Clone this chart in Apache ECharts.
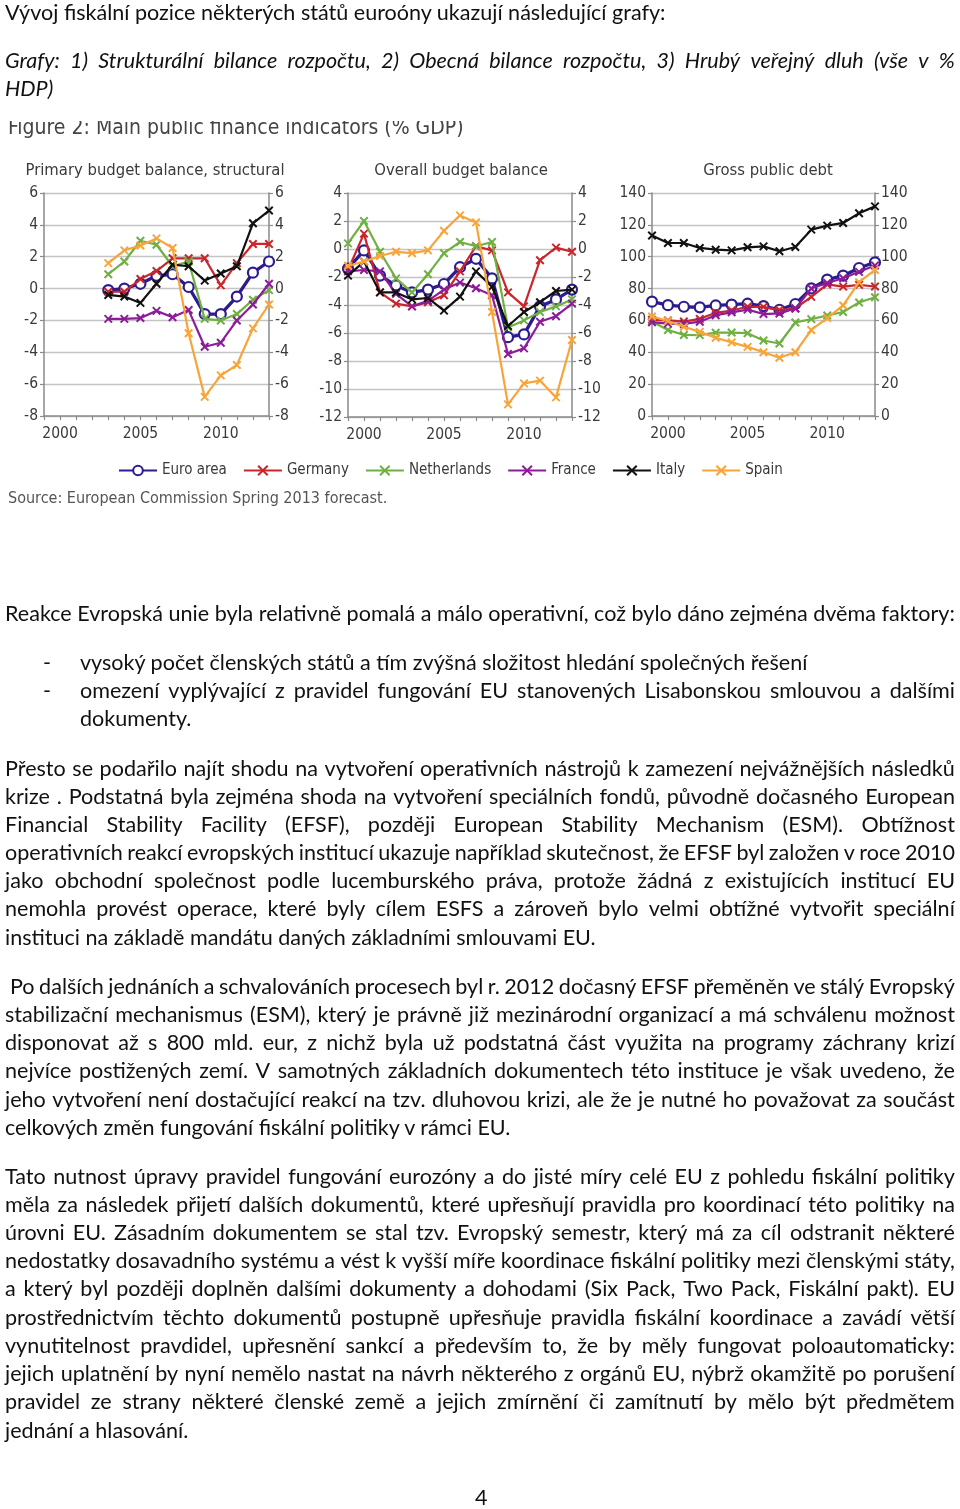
<!DOCTYPE html>
<html><head><meta charset="utf-8">
<script src="https://cdn.jsdelivr.net/npm/echarts@6/dist/echarts.min.js"></script>
<style>
html,body{margin:0;padding:0;background:#fff;}
body{width:960px;height:1509px;position:relative;overflow:hidden;}
#chart{position:absolute;left:0;top:0;width:960px;height:1509px;}
.ln{position:absolute;white-space:nowrap;font-family:Lato,'Open Sans',sans-serif;color:#111;line-height:28px;height:28px;z-index:2;}
.j{display:flex;justify-content:space-between;}
.j span{flex-shrink:0;}
.it{font-style:italic;}
#cover{position:absolute;left:0;top:100px;width:480px;height:21px;background:#fff;z-index:3;}
</style></head><body>
<div id="chart"></div>
<div id="cover"></div>
<div id="text"></div>
<script>
// ---------------- data ----------------
const years = [1999,2000,2001,2002,2003,2004,2005,2006,2007,2008,2009,2010,2011,2012,2013];
const countries = ['Euro area','Germany','Netherlands','France','Italy','Spain'];
const xTickLabels = [2000,2005,2010];

// Primary budget balance, structural (% GDP)
const p1Euro = [null,null,null,null,-0.1,0.0,0.3,0.8,0.9,0.1,-1.6,-1.6,-0.5,1.0,1.7];
const p1Germany = [null,null,null,null,-0.2,-0.2,0.6,1.1,1.9,1.9,1.9,0.2,1.6,2.8,2.8];
const p1Netherlands = [null,null,null,null,0.9,1.7,3.0,2.75,1.4,1.7,-1.9,-2.0,-1.6,-0.7,-0.1];
const p1France = [null,null,null,null,-1.9,-1.9,-1.85,-1.4,-1.8,-1.35,-3.65,-3.4,-2.0,-1.0,0.3];
const p1Italy = [null,null,null,null,-0.4,-0.5,-0.9,0.3,1.5,1.4,0.5,0.95,1.4,4.1,4.9];
const p1Spain = [null,null,null,null,1.6,2.4,2.7,3.15,2.55,-2.8,-6.8,-5.45,-4.8,-2.5,-1.0];

// Overall budget balance (% GDP)
const p2Euro = [-1.4,-0.1,-1.9,-2.6,-3.1,-2.9,-2.5,-1.3,-0.7,-2.1,-6.3,-6.1,-4.1,-3.6,-2.9];
const p2Germany = [-1.5,1.1,-3.1,-3.9,-4.1,-3.8,-3.3,-1.6,0.2,-0.1,-3.1,-4.1,-0.8,0.1,-0.2];
const p2Netherlands = [0.4,2.0,-0.2,-2.1,-3.1,-1.8,-0.3,0.5,0.2,0.5,-5.6,-5.1,-4.5,-4.1,-3.6];
const p2France = [-1.6,-1.5,-1.6,-3.2,-4.1,-3.7,-2.9,-2.4,-2.8,-3.3,-7.5,-7.1,-5.2,-4.8,-3.9];
const p2Italy = [-1.9,-0.9,-3.1,-3.1,-3.6,-3.5,-4.4,-3.4,-1.6,-2.7,-5.5,-4.5,-3.8,-3.0,-2.9];
const p2Spain = [-1.2,-0.9,-0.5,-0.2,-0.3,-0.1,1.3,2.4,1.9,-4.5,-11.1,-9.6,-9.4,-10.6,-6.5];

// Gross public debt (% GDP)
const p3Euro = [71.8,69.6,68.6,68.2,69.4,69.9,70.5,69.0,66.7,70.3,80.1,85.6,88.1,92.9,96.5];
const p3Germany = [60.4,60.0,59.3,61.0,64.8,66.2,68.6,68.5,66.5,67.5,74.8,82.6,81.2,82.3,81.3];
const p3Netherlands = [59.3,54.0,50.9,50.8,52.3,52.4,52.0,47.4,45.5,58.7,60.8,63.1,65.3,71.3,74.6];
const p3France = [58.9,58.0,57.8,59.2,63.3,65.1,66.8,64.0,64.4,67.5,80.0,83.5,86.5,90.5,94.5];
const p3Italy = [113.3,108.6,108.6,105.5,104.4,104.0,105.9,106.5,103.4,106.1,117.0,119.5,121.2,127.3,131.6];
const p3Spain = [62.5,59.6,56.0,52.8,49.1,46.2,43.4,40.0,36.6,40.0,54.0,61.5,69.4,84.0,91.7];

const panelTitles = ['Primary budget balance, structural','Overall budget balance','Gross public debt'];
const figureTitle = 'Figure 2: Main public finance indicators (% GDP)';
const sourceText = 'Source: European Commission Spring 2013 forecast.';

// ---------------- page text ----------------
const textLines = [
 {t:'Vývoj fiskální pozice některých států euroóny ukazují následující grafy:', y:12, x:5},
 {t:'Grafy: 1) Strukturální bilance rozpočtu, 2) Obecná bilance rozpočtu, 3) Hrubý veřejný dluh (vše v %', y:60, x:5, j:1, i:1},
 {t:'HDP)', y:88, x:5, i:1},
 {t:'Reakce Evropská unie byla relativně pomalá a málo operativní, což bylo dáno zejména dvěma faktory:', y:613, x:5, j:1},
 {t:'-', y:662, x:43},
 {t:'vysoký počet členských států a tím zvýšná složitost hledání společných řešení', y:662, x:80},
 {t:'-', y:690, x:43},
 {t:'omezení vyplývající z pravidel fungování EU stanovených Lisabonskou smlouvou a dalšími', y:690, x:80, j:1},
 {t:'dokumenty.', y:718, x:80},
 {t:'Přesto se podařilo najít shodu na vytvoření operativních nástrojů k zamezení nejvážnějších následků', y:768, x:5, j:1},
 {t:'krize . Podstatná byla zejména shoda na vytvoření speciálních fondů, původně dočasného European', y:796, x:5, j:1},
 {t:'Financial Stability Facility (EFSF), později European Stability Mechanism (ESM). Obtížnost', y:824, x:5, j:1},
 {t:'operativních reakcí evropských institucí ukazuje například skutečnost, že EFSF byl založen v roce 2010', y:852, x:5, j:1},
 {t:'jako obchodní společnost podle lucemburského práva, protože žádná z existujících institucí EU', y:880, x:5, j:1},
 {t:'nemohla provést operace, které byly cílem ESFS a zároveň bylo velmi obtížné vytvořit speciální', y:908, x:5, j:1},
 {t:'instituci na základě mandátu daných základními smlouvami EU.', y:937, x:5},
 {t:'Po dalších jednáních a schvalováních procesech byl r. 2012 dočasný EFSF přeměněn ve stálý Evropský', y:986, x:10, j:1},
 {t:'stabilizační mechanismus (ESM), který je právně již mezinárodní organizací a má schválenu možnost', y:1014, x:5, j:1},
 {t:'disponovat až s 800 mld. eur, z nichž byla už podstatná část využita na programy záchrany krizí', y:1042, x:5, j:1},
 {t:'nejvíce postižených zemí. V samotných základních dokumentech této instituce je však uvedeno, že', y:1070, x:5, j:1},
 {t:'jeho vytvoření není dostačující reakcí na tzv. dluhovou krizi, ale že je nutné ho považovat za součást', y:1099, x:5, j:1},
 {t:'celkových změn fungování fiskální politiky v rámci EU.', y:1127, x:5},
 {t:'Tato nutnost úpravy pravidel fungování eurozóny a do jisté míry celé EU z pohledu fiskální politiky', y:1176, x:5, j:1},
 {t:'měla za následek přijetí dalších dokumentů, které upřesňují pravidla pro koordinací této politiky na', y:1204, x:5, j:1},
 {t:'úrovni EU. Zásadním dokumentem se stal tzv. Evropský semestr, který má za cíl odstranit některé', y:1232, x:5, j:1},
 {t:'nedostatky dosavadního systému a vést k vyšší míře koordinace fiskální politiky mezi členskými státy,', y:1260, x:5, j:1},
 {t:'a který byl později doplněn dalšími dokumenty a dohodami (Six Pack, Two Pack, Fiskální pakt). EU', y:1288, x:5, j:1},
 {t:'prostřednictvím těchto dokumentů postupně upřesňuje pravidla fiskální koordinace a zavádí větší', y:1317, x:5, j:1},
 {t:'vynutitelnost pravdidel, upřesnění sankcí a především to, že by měly fungovat poloautomaticky:', y:1345, x:5, j:1},
 {t:'jejich uplatnění by nyní nemělo nastat na návrh některého z orgánů EU, nýbrž okamžitě po porušení', y:1373, x:5, j:1},
 {t:'pravidel ze strany některé členské země a jejich zmírnění či zamítnutí by mělo být předmětem', y:1401, x:5, j:1},
 {t:'jednání a hlasování.', y:1430, x:5},
 {t:'4', y:1497, x:475}
];

// fit font size so that a reference line has the reference width
const mctx = document.createElement('canvas').getContext('2d');
mctx.font = '20px Lato';
const refW = mctx.measureText('instituci na základě mandátu daných základními smlouvami EU.').width;
const fs = Math.max(16, Math.min(23, 20 * 591 / refW));
const holder = document.getElementById('text');
textLines.forEach(L => {
  const d = document.createElement('div');
  d.className = 'ln' + (L.j ? ' j' : '') + (L.i ? ' it' : '');
  d.style.left = L.x + 'px';
  d.style.top = (L.y - 14) + 'px';
  d.style.fontSize = fs.toFixed(2) + 'px';
  if (L.j) {
    d.style.width = (955 - L.x) + 'px';
    L.t.split(' ').forEach(w => { const s = document.createElement('span'); s.textContent = w; d.appendChild(s); });
  } else {
    d.textContent = L.t;
  }
  holder.appendChild(d);
});

// ---------------- chart ----------------
const FONT = "'Liberation Sans Narrow','DejaVu Sans Condensed',Roboto,sans-serif";
const colorOf = {'Euro area':'#2d1c8e','Germany':'#c8262c','Netherlands':'#70b043','France':'#8d1c99','Italy':'#111111','Spain':'#f7a53a'};
const crossPath = 'path://M0,0L10,10M10,0L0,10';
const panelData = [
  [p1Euro,p1Germany,p1Netherlands,p1France,p1Italy,p1Spain],
  [p2Euro,p2Germany,p2Netherlands,p2France,p2Italy,p2Spain],
  [p3Euro,p3Germany,p3Netherlands,p3France,p3Italy,p3Spain]
];
const yRanges = [[-8,6,2],[-12,4,2],[0,140,20]];
const grids = [
  {left:44, top:193, width:225, height:223},
  {left:348, top:193, width:224, height:224},
  {left:652, top:193, width:223, height:223}
];
const axisColor = '#8a8a8a';
const xAxes = [], yAxes = [], series = [];
grids.forEach((g, p) => {
  xAxes.push({type:'value', gridIndex:p, min:1999, max:2013, interval:1,
    axisLine:{show:true, onZero:false, lineStyle:{color:axisColor, width:1.5}},
    axisTick:{show:true, length:4, lineStyle:{color:axisColor, width:1.2}},
    axisLabel:{formatter:v => xTickLabels.indexOf(v) >= 0 ? String(v) : '', fontSize:15.5, color:'#3a3a3a', fontFamily:FONT, margin:10},
    splitLine:{show:false}});
  const [mn, mx, iv] = yRanges[p];
  ['left','right'].forEach(pos => {
    yAxes.push({type:'value', gridIndex:p, position:pos, min:mn, max:mx, interval:iv,
      axisLine:{show:true, onZero:false, lineStyle:{color:axisColor, width:1.5}},
      axisTick:{show:true, length:4, lineStyle:{color:axisColor, width:1.2}},
      axisLabel:{fontSize:15.5, color:'#3a3a3a', fontFamily:FONT, margin:6},
      splitLine:{show:pos === 'left', lineStyle:{color:'#c4c4c4', width:1.3}}});
  });
  countries.forEach((c, k) => {
    const vals = panelData[p][k];
    const data = years.map((y, i) => [y, vals[i]]).filter(d => d[1] !== null);
    const isEuro = c === 'Euro area';
    series.push({
      type:'line', name:c, xAxisIndex:p, yAxisIndex:2 * p, data:data,
      symbol: isEuro ? 'circle' : crossPath,
      symbolSize: isEuro ? 10 : 7.5,
      showAllSymbol:true,
      lineStyle:{color:colorOf[c], width: isEuro ? 3.3 : 2.2},
      itemStyle: isEuro ? {color:'#fff', borderColor:colorOf[c], borderWidth:2.2}
                        : {color:colorOf[c], borderColor:colorOf[c], borderWidth:2},
      emphasis:{disabled:true}, animation:false, z: 2 + k
    });
  });
});

const titleX = [155, 461, 768];
const graphics = panelTitles.map((t, i) => ({type:'text', x:titleX[i], y:171,
  style:{text:t, fontSize:16.5, fontFamily:FONT, fill:'#3a3a3a', textAlign:'center', textVerticalAlign:'middle'}}));
graphics.push({type:'text', x:8, y:129, style:{text:figureTitle, fontSize:21, fontFamily:FONT, fill:'#444', textAlign:'left', textVerticalAlign:'middle'}});
graphics.push({type:'text', x:8, y:499, style:{text:sourceText, fontSize:16, fontFamily:FONT, fill:'#555', textAlign:'left', textVerticalAlign:'middle'}});

const chart = echarts.init(document.getElementById('chart'), null, {renderer:'canvas'});
chart.setOption({
  backgroundColor:'#fff',
  animation:false,
  grid:grids,
  xAxis:xAxes,
  yAxis:yAxes,
  series:series,
  graphic:graphics,
  legend:{data:countries, left:113, top:458, itemWidth:38, itemHeight:12, itemGap:16,
    textStyle:{fontSize:15, fontFamily:FONT, color:'#3a3a3a'}}
});
</script></body></html>
